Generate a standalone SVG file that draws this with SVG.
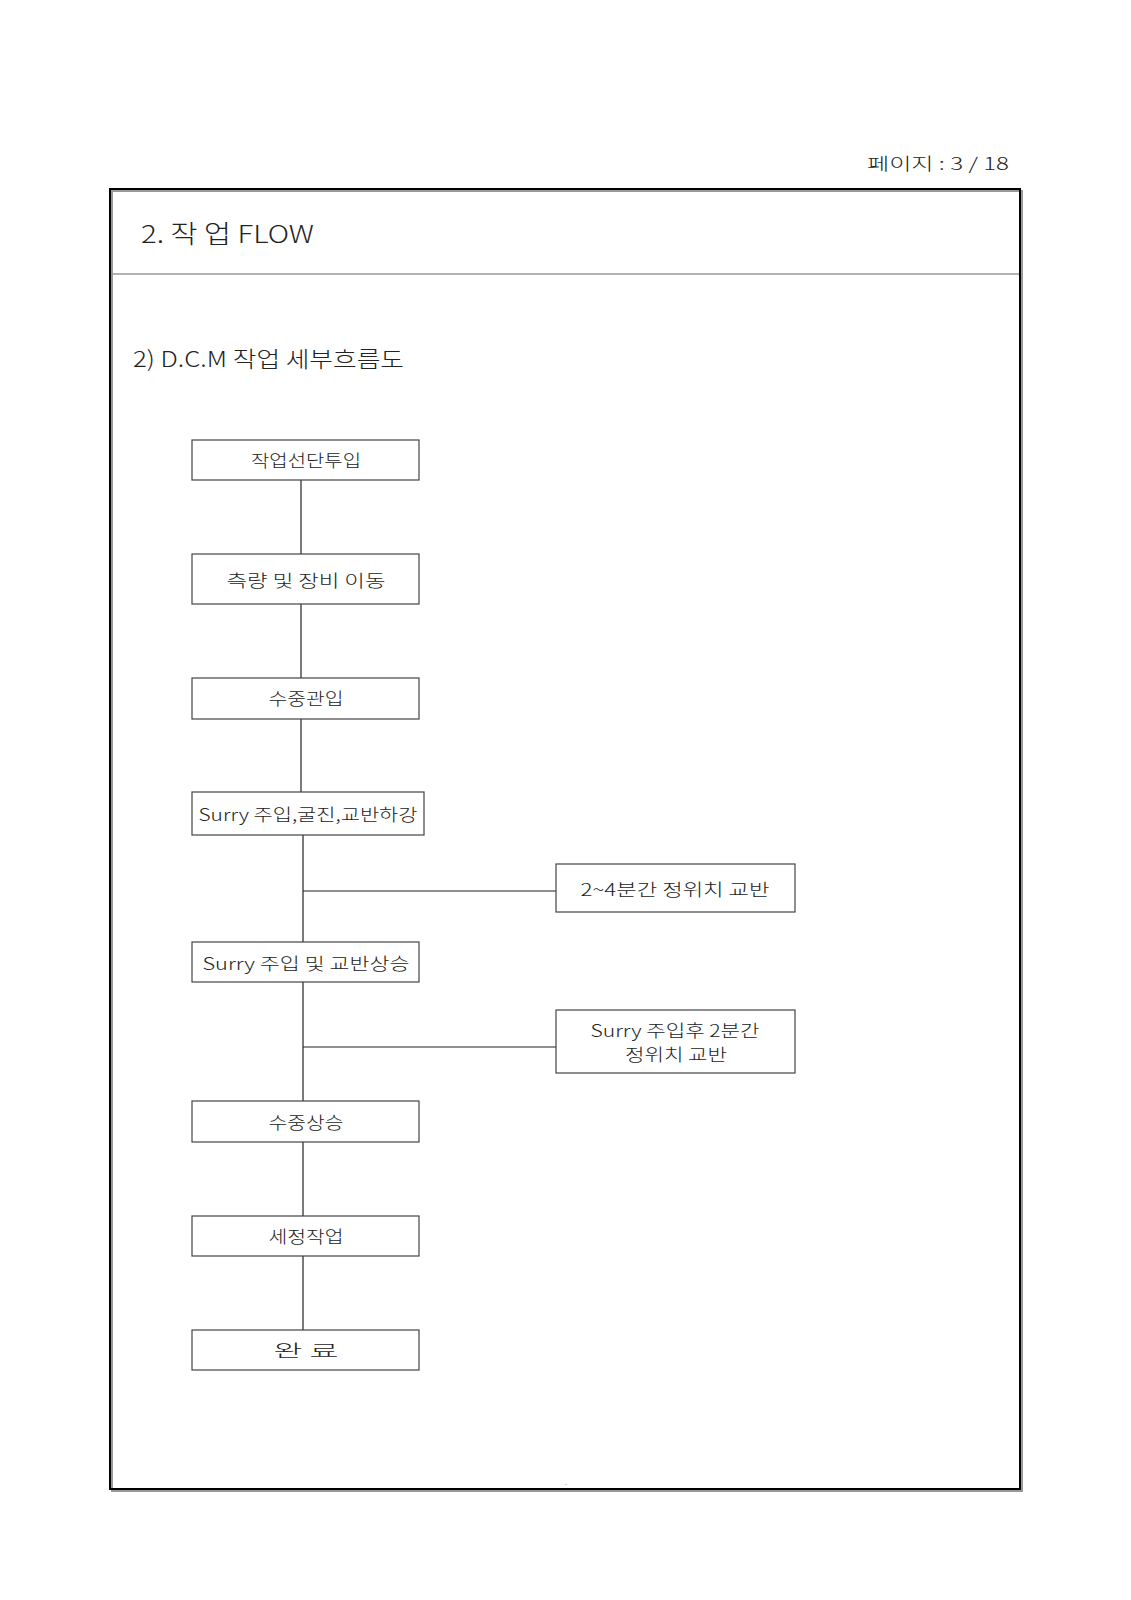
<svg xmlns="http://www.w3.org/2000/svg" width="1131" height="1600" viewBox="0 0 1131 1600">
<style>
text{font-family:"Noto Sans CJK KR","Liberation Sans",sans-serif;fill:#222;dominant-baseline:central;font-weight:300}
.box rect{fill:#fff;stroke:#444;stroke-width:1.2}
.box text{font-size:17px;text-anchor:middle}
#connectors line{stroke:#222;stroke-width:1.2}
</style>
<rect width="1131" height="1600" fill="#fff"/>
<text x="1009" y="162" font-size="17" text-anchor="end" textLength="142" lengthAdjust="spacingAndGlyphs">페이지 : 3 / 18</text>
<g id="frame">
<rect x="111" y="190" width="910" height="1300" fill="none" stroke="#999" stroke-width="2" transform="translate(1,1)"/>
<rect x="110" y="189" width="910" height="1300" fill="none" stroke="#000" stroke-width="2"/>
<line x1="111" y1="274" x2="1019" y2="274" stroke="#999" stroke-width="1.5"/>
</g>
<text x="141" y="232" font-size="25" textLength="173" lengthAdjust="spacingAndGlyphs">2. 작 업 FLOW</text>
<text x="133" y="357" font-size="22" textLength="271" lengthAdjust="spacingAndGlyphs">2) D.C.M 작업 세부흐름도</text>
<text x="565" y="1481" font-size="8">.</text>
<g id="connectors">
<line x1="301" y1="480" x2="301" y2="554"/>
<line x1="301" y1="604" x2="301" y2="678"/>
<line x1="301" y1="719" x2="301" y2="792"/>
<line x1="303" y1="835" x2="303" y2="942"/>
<line x1="303" y1="891" x2="556" y2="891"/>
<line x1="303" y1="982" x2="303" y2="1101"/>
<line x1="303" y1="1047" x2="556" y2="1047"/>
<line x1="303" y1="1142" x2="303" y2="1216"/>
<line x1="303" y1="1256" x2="303" y2="1330"/>
</g>
<g id="n1" class="box"><rect x="192" y="440" width="227" height="40"/><text x="306" y="459" textLength="110" lengthAdjust="spacingAndGlyphs">작업선단투입</text></g>
<g id="n2" class="box"><rect x="192" y="554" width="227" height="50"/><text x="306" y="579" textLength="159" lengthAdjust="spacingAndGlyphs">측량 및 장비 이동</text></g>
<g id="n3" class="box"><rect x="192" y="678" width="227" height="41"/><text x="306" y="697" textLength="75" lengthAdjust="spacingAndGlyphs">수중관입</text></g>
<g id="n4" class="box"><rect x="192" y="792" width="232" height="43"/><text x="308" y="813" textLength="219" lengthAdjust="spacingAndGlyphs">Surry 주입,굴진,교반하강</text></g>
<g id="n5" class="box"><rect x="556" y="864" width="239" height="48"/><text x="675" y="888" textLength="189" lengthAdjust="spacingAndGlyphs">2~4분간 정위치 교반</text></g>
<g id="n6" class="box"><rect x="192" y="942" width="227" height="40"/><text x="306" y="962" textLength="207" lengthAdjust="spacingAndGlyphs">Surry 주입 및 교반상승</text></g>
<g id="n7" class="box"><rect x="556" y="1010" width="239" height="63"/><text x="675" y="1029" textLength="169" lengthAdjust="spacingAndGlyphs">Surry 주입후 2분간</text><text x="676" y="1053" textLength="102" lengthAdjust="spacingAndGlyphs">정위치 교반</text></g>
<g id="n8" class="box"><rect x="192" y="1101" width="227" height="41"/><text x="306" y="1121" textLength="75" lengthAdjust="spacingAndGlyphs">수중상승</text></g>
<g id="n9" class="box"><rect x="192" y="1216" width="227" height="40"/><text x="306" y="1235" textLength="75" lengthAdjust="spacingAndGlyphs">세정작업</text></g>
<g id="n10" class="box"><rect x="192" y="1330" width="227" height="40"/><text x="306" y="1349" textLength="65" lengthAdjust="spacingAndGlyphs">완 료</text></g>
</svg>
